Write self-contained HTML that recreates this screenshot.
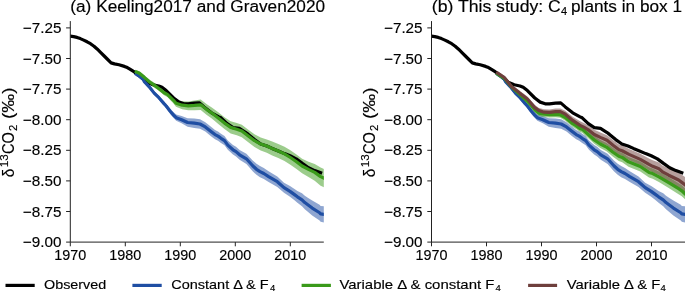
<!DOCTYPE html>
<html><head><meta charset="utf-8"><style>
html,body{margin:0;padding:0;background:#fff;}
svg{display:block;will-change:transform;}
text{font-family:"Liberation Sans",sans-serif;fill:#000;stroke:#000;stroke-width:0.15px;}
.tk{font-size:14.6px;}
.yl{font-size:15.8px;}
.ys{font-size:11px;}
.lg{font-size:13.2px;}
.sb{font-size:9.5px;}
.tt{font-size:15.6px;}
.ts{font-size:11px;}
</style></head><body>
<svg width="685" height="292" viewBox="0 0 685 292">
<defs>
<clipPath id="clipL"><rect x="70.3" y="21.1" width="253.5" height="221.0"/></clipPath>
<clipPath id="clipR"><rect x="431.5" y="21.1" width="253.5" height="221.0"/></clipPath>
</defs>
<rect width="685" height="292" fill="#fff"/>
<g clip-path="url(#clipL)">
<path d="M136.30,72.30 L139.40,74.38 L143.10,77.25 L144.30,79.64 L150.00,85.70 L154.20,91.09 L158.70,95.41 L164.00,101.51 L166.20,103.79 L170.20,108.71 L173.60,112.20 L176.20,114.55 L181.60,116.03 L187.60,118.29 L194.30,118.40 L200.00,119.25 L205.30,122.19 L211.00,126.83 L215.00,129.96 L218.00,131.48 L221.00,133.69 L224.50,135.93 L227.80,140.38 L233.00,145.01 L236.00,146.76 L239.60,149.91 L246.40,153.64 L252.70,160.39 L256.50,163.74 L260.00,165.90 L263.80,167.93 L268.60,171.15 L277.30,176.48 L284.00,182.64 L290.00,186.04 L294.50,189.05 L297.40,190.92 L302.00,193.35 L304.80,195.81 L307.80,197.73 L312.20,200.62 L319.60,204.87 L320.60,205.91 L325.50,206.43 L325.50,222.77 L320.60,221.73 L319.60,220.58 L312.20,215.48 L307.80,211.82 L304.80,209.36 L302.00,206.23 L297.40,202.70 L294.50,200.19 L290.00,196.64 L284.00,192.69 L277.30,186.91 L268.60,182.07 L263.80,179.12 L260.00,177.30 L256.50,174.86 L252.70,171.21 L246.40,163.96 L239.60,159.69 L236.00,156.44 L233.00,154.59 L227.80,149.82 L224.50,145.27 L221.00,142.92 L218.00,140.72 L215.00,139.24 L211.00,136.17 L205.30,131.61 L200.00,128.75 L194.30,128.00 L187.60,126.71 L181.60,123.33 L176.20,120.85 L173.60,118.00 L170.20,113.89 L166.20,108.21 L164.00,105.69 L158.70,99.53 L154.20,95.15 L150.00,89.70 L144.30,83.56 L143.10,81.15 L139.40,78.22 L136.30,76.10 Z" fill="#1f4ea3" fill-opacity="0.5"/>
<path d="M136.30,69.96 L139.40,71.23 L144.30,75.21 L149.30,79.47 L154.20,82.79 L159.10,86.30 L164.10,90.32 L167.30,91.70 L173.50,97.06 L176.00,99.85 L182.20,101.25 L188.30,101.42 L194.50,100.58 L200.70,99.58 L206.80,104.16 L211.80,107.39 L218.30,112.26 L224.50,117.13 L230.70,121.34 L236.80,123.05 L241.80,124.74 L248.30,129.65 L254.50,134.35 L260.70,137.62 L266.80,139.40 L272.20,141.61 L278.30,143.93 L284.50,146.67 L290.40,150.20 L296.50,154.40 L302.10,158.70 L308.50,161.68 L314.70,163.95 L320.60,167.45 L325.50,169.60 L325.50,188.00 L320.60,185.75 L314.70,180.85 L308.50,177.12 L302.10,173.30 L296.50,169.00 L290.40,164.80 L284.50,161.05 L278.30,158.07 L272.20,155.39 L266.80,152.75 L260.70,150.48 L254.50,147.04 L248.30,142.22 L241.80,137.17 L236.80,135.35 L230.70,133.46 L224.50,129.07 L218.30,123.94 L211.80,118.61 L206.80,115.04 L200.70,110.02 L194.50,110.21 L188.30,110.18 L182.20,109.15 L176.00,106.75 L173.50,103.54 L167.30,97.10 L164.10,95.28 L159.10,91.10 L154.20,87.41 L149.30,83.93 L144.30,79.49 L139.40,75.35 L136.30,73.97 Z" fill="#3a9a1a" fill-opacity="0.5"/>
<path d="M68.00,36.00 L70.30,36.20 L73.60,36.60 L77.00,37.40 L80.30,38.60 L83.70,40.10 L87.10,41.80 L90.50,43.70 L94.00,46.20 L97.40,49.20 L100.80,52.60 L104.20,56.00 L107.70,59.50 L111.10,62.90 L114.50,63.90 L119.00,64.80 L124.40,66.40 L127.30,67.60 L129.90,69.20 L134.30,71.92 L141.00,77.01 L147.00,82.30 L153.00,84.80 L158.80,86.00 L162.00,87.30 L166.20,90.60 L173.60,98.00 L179.00,102.13 L184.00,103.80 L188.30,103.90 L194.30,103.20 L199.50,102.90 L204.10,106.90 L211.50,112.80 L218.90,116.83 L221.00,117.80 L227.10,123.60 L233.10,127.60 L239.30,128.40 L245.50,132.30 L248.30,134.40 L254.50,139.60 L260.70,143.95 L266.80,145.97 L272.20,148.40 L278.30,150.90 L284.50,153.60 L290.00,155.80 L296.20,158.90 L302.30,163.40 L308.50,167.70 L314.70,170.60 L320.60,172.80" fill="none" stroke="#000" stroke-width="3.2" stroke-linejoin="round" stroke-linecap="square"/>
<path d="M136.30,74.20 L139.40,76.30 L143.10,79.20 L144.30,81.60 L150.00,87.70 L154.20,93.12 L158.70,97.47 L164.00,103.60 L166.20,106.00 L170.20,111.30 L173.60,115.10 L176.20,117.70 L181.60,119.68 L187.60,122.50 L194.30,123.20 L200.00,124.00 L205.30,126.90 L211.00,131.50 L215.00,134.60 L218.00,136.10 L221.00,138.30 L224.50,140.60 L227.80,145.10 L233.00,149.80 L236.00,151.60 L239.60,154.80 L246.40,158.80 L252.70,165.80 L256.50,169.30 L260.00,171.60 L263.80,173.52 L268.60,176.61 L277.30,181.69 L284.00,187.66 L290.00,191.34 L294.50,194.62 L297.40,196.81 L302.00,199.79 L304.80,202.58 L307.80,204.77 L312.20,208.05 L319.60,212.73 L320.60,213.82 L325.50,214.60" fill="none" stroke="#1f4ea3" stroke-width="3.2" stroke-linejoin="round" stroke-linecap="square"/>
<path d="M136.30,71.97 L139.40,73.29 L144.30,77.35 L149.30,81.70 L154.20,85.10 L159.10,88.70 L164.10,92.80 L167.30,94.40 L173.50,100.30 L176.00,103.30 L182.20,105.20 L188.30,105.80 L194.50,105.40 L200.70,104.80 L206.80,109.60 L211.80,113.00 L218.30,118.10 L224.50,123.10 L230.70,127.40 L236.80,129.20 L241.80,130.96 L248.30,135.94 L254.50,140.70 L260.70,144.05 L266.80,146.07 L272.20,148.50 L278.30,151.00 L284.50,153.86 L290.40,157.50 L296.50,161.70 L302.10,166.00 L308.50,169.40 L314.70,172.40 L320.60,176.60 L325.50,178.80" fill="none" stroke="#3a9a1a" stroke-width="3.2" stroke-linejoin="round" stroke-linecap="square"/>
</g>
<g clip-path="url(#clipR)">
<path d="M497.50,72.30 L500.60,74.38 L504.30,77.25 L505.50,79.64 L511.20,85.70 L515.40,91.09 L519.90,95.41 L525.20,101.51 L527.40,103.79 L531.40,108.71 L534.80,112.20 L537.40,114.55 L542.80,116.03 L548.80,118.29 L555.50,118.40 L561.20,119.25 L566.50,122.19 L572.20,126.83 L576.20,129.96 L579.20,131.48 L582.20,133.69 L585.70,135.93 L589.00,140.38 L594.20,145.01 L597.20,146.76 L600.80,149.91 L607.60,153.64 L613.90,160.39 L617.70,163.74 L621.20,165.90 L625.00,167.93 L629.80,171.15 L638.50,176.48 L645.20,182.64 L651.20,186.04 L655.70,189.05 L658.60,190.92 L663.20,193.35 L666.00,195.81 L669.00,197.73 L673.40,200.62 L680.80,204.87 L681.80,205.91 L686.70,206.43 L686.70,222.77 L681.80,221.73 L680.80,220.58 L673.40,215.48 L669.00,211.82 L666.00,209.36 L663.20,206.23 L658.60,202.70 L655.70,200.19 L651.20,196.64 L645.20,192.69 L638.50,186.91 L629.80,182.07 L625.00,179.12 L621.20,177.30 L617.70,174.86 L613.90,171.21 L607.60,163.96 L600.80,159.69 L597.20,156.44 L594.20,154.59 L589.00,149.82 L585.70,145.27 L582.20,142.92 L579.20,140.72 L576.20,139.24 L572.20,136.17 L566.50,131.61 L561.20,128.75 L555.50,128.00 L548.80,126.71 L542.80,123.33 L537.40,120.85 L534.80,118.00 L531.40,113.89 L527.40,108.21 L525.20,105.69 L519.90,99.53 L515.40,95.15 L511.20,89.70 L505.50,83.56 L504.30,81.15 L500.60,78.22 L497.50,76.10 Z" fill="#1f4ea3" fill-opacity="0.5"/>
<path d="M497.50,71.96 L504.30,76.17 L511.70,84.86 L519.10,91.46 L527.40,98.84 L534.80,107.22 L539.00,110.65 L542.20,111.30 L549.60,111.87 L555.80,111.37 L560.30,111.79 L565.30,114.37 L572.70,120.38 L576.00,122.30 L580.10,125.10 L582.20,125.55 L588.30,130.89 L594.30,136.10 L600.30,139.99 L606.50,142.88 L612.70,147.58 L618.80,151.67 L622.20,152.66 L628.50,156.91 L640.30,161.41 L649.00,167.23 L652.70,168.39 L658.90,171.54 L668.70,177.25 L678.60,183.26 L681.80,185.33 L686.50,189.60 L686.50,200.60 L681.80,196.27 L678.60,194.14 L668.70,187.95 L658.90,182.06 L652.70,178.81 L649.00,177.57 L640.30,171.59 L628.50,166.81 L622.20,162.14 L618.80,160.93 L612.70,156.42 L606.50,151.32 L600.30,148.01 L594.30,143.82 L588.30,138.31 L582.20,132.66 L580.10,132.10 L576.00,129.10 L572.70,127.02 L565.30,120.63 L560.30,117.81 L555.80,117.23 L549.60,117.53 L542.20,116.70 L539.00,115.95 L534.80,112.38 L527.40,103.76 L519.10,96.14 L511.70,89.34 L504.30,80.43 L497.50,76.04 Z" fill="#3a9a1a" fill-opacity="0.5"/>
<path d="M497.50,71.06 L504.30,75.40 L511.70,84.56 L519.10,90.26 L520.00,91.04 L527.40,96.54 L534.80,104.99 L539.00,107.89 L544.00,109.37 L549.50,109.44 L555.50,108.50 L560.30,108.39 L565.30,110.76 L572.70,116.63 L580.10,121.20 L583.80,122.93 L588.00,125.14 L594.30,129.76 L600.40,132.39 L607.00,135.18 L613.00,139.98 L619.00,144.38 L622.20,145.37 L629.00,148.92 L640.30,153.75 L649.00,158.62 L652.70,160.37 L658.90,162.56 L662.50,165.38 L668.70,168.47 L678.60,172.51 L681.80,174.66 L686.50,178.00 L686.50,194.00 L681.80,190.14 L678.60,187.49 L668.70,181.94 L662.50,178.23 L658.90,175.05 L652.70,172.24 L649.00,170.19 L640.30,165.05 L629.00,159.88 L622.20,156.11 L619.00,155.02 L613.00,150.42 L607.00,145.42 L600.40,142.41 L594.30,139.24 L588.00,134.06 L583.80,131.47 L580.10,129.40 L572.70,124.17 L565.30,117.64 L560.30,114.81 L555.50,114.69 L549.50,115.35 L544.00,115.03 L539.00,113.31 L534.80,110.21 L527.40,101.46 L520.00,95.76 L519.10,94.94 L511.70,89.04 L504.30,79.66 L497.50,75.14 Z" fill="#6e3f3c" fill-opacity="0.5"/>
<path d="M429.20,36.00 L431.50,36.20 L434.80,36.60 L438.20,37.40 L441.50,38.60 L444.90,40.10 L448.30,41.80 L451.70,43.70 L455.20,46.20 L458.60,49.20 L462.00,52.60 L465.40,56.00 L468.90,59.50 L472.30,62.90 L475.70,63.90 L480.20,64.80 L485.60,66.40 L488.50,67.60 L491.10,69.20 L495.50,71.92 L502.20,77.01 L508.20,82.30 L514.20,84.80 L520.00,86.00 L523.20,87.30 L527.40,90.60 L534.80,98.00 L540.20,102.13 L545.20,103.80 L549.50,103.90 L555.50,103.20 L560.70,102.90 L565.30,106.90 L572.70,112.80 L580.10,116.83 L582.20,117.80 L588.30,123.60 L594.30,127.60 L600.50,128.40 L606.70,132.30 L609.50,134.40 L615.70,139.60 L621.90,143.95 L628.00,145.97 L633.40,148.40 L639.50,150.90 L645.70,153.60 L651.20,155.80 L657.40,158.90 L663.50,163.40 L669.70,167.70 L675.90,170.60 L681.80,172.80" fill="none" stroke="#000" stroke-width="3.2" stroke-linejoin="round" stroke-linecap="square"/>
<path d="M497.50,74.20 L500.60,76.30 L504.30,79.20 L505.50,81.60 L511.20,87.70 L515.40,93.12 L519.90,97.47 L525.20,103.60 L527.40,106.00 L531.40,111.30 L534.80,115.10 L537.40,117.70 L542.80,119.68 L548.80,122.50 L555.50,123.20 L561.20,124.00 L566.50,126.90 L572.20,131.50 L576.20,134.60 L579.20,136.10 L582.20,138.30 L585.70,140.60 L589.00,145.10 L594.20,149.80 L597.20,151.60 L600.80,154.80 L607.60,158.80 L613.90,165.80 L617.70,169.30 L621.20,171.60 L625.00,173.52 L629.80,176.61 L638.50,181.69 L645.20,187.66 L651.20,191.34 L655.70,194.62 L658.60,196.81 L663.20,199.79 L666.00,202.58 L669.00,204.77 L673.40,208.05 L680.80,212.73 L681.80,213.82 L686.70,214.60" fill="none" stroke="#1f4ea3" stroke-width="3.2" stroke-linejoin="round" stroke-linecap="square"/>
<path d="M497.50,74.00 L504.30,78.30 L511.70,87.10 L519.10,93.80 L527.40,101.30 L534.80,109.80 L539.00,113.30 L542.20,114.00 L549.60,114.70 L555.80,114.30 L560.30,114.80 L565.30,117.50 L572.70,123.70 L576.00,125.70 L580.10,128.60 L582.20,129.10 L588.30,134.60 L594.30,139.96 L600.30,144.00 L606.50,147.10 L612.70,152.00 L618.80,156.30 L622.20,157.40 L628.50,161.86 L640.30,166.50 L649.00,172.40 L652.70,173.60 L658.90,176.80 L668.70,182.60 L678.60,188.70 L681.80,190.80 L686.50,195.10" fill="none" stroke="#3a9a1a" stroke-width="3.2" stroke-linejoin="round" stroke-linecap="square"/>
<path d="M497.50,73.10 L504.30,77.53 L511.70,86.80 L519.10,92.60 L520.00,93.40 L527.40,99.00 L534.80,107.60 L539.00,110.60 L544.00,112.20 L549.50,112.40 L555.50,111.60 L560.30,111.60 L565.30,114.20 L572.70,120.40 L580.10,125.30 L583.80,127.20 L588.00,129.60 L594.30,134.50 L600.40,137.40 L607.00,140.30 L613.00,145.20 L619.00,149.70 L622.20,150.74 L629.00,154.40 L640.30,159.40 L649.00,164.40 L652.70,166.30 L658.90,168.80 L662.50,171.80 L668.70,175.20 L678.60,180.00 L681.80,182.40 L686.50,186.00" fill="none" stroke="#6e3f3c" stroke-width="3.2" stroke-linejoin="round" stroke-linecap="square"/>
</g>
<line x1="70.3" y1="21.1" x2="70.3" y2="242.1" stroke="#222" stroke-width="1"/>
<line x1="70.3" y1="242.1" x2="323.8" y2="242.1" stroke="#222" stroke-width="1"/>
<line x1="66.1" y1="27.9" x2="70.3" y2="27.9" stroke="#222" stroke-width="1"/>
<text x="61.4" y="32.9" text-anchor="end" class="tk" textLength="38.6" lengthAdjust="spacingAndGlyphs">−7.25</text>
<line x1="66.1" y1="58.5" x2="70.3" y2="58.5" stroke="#222" stroke-width="1"/>
<text x="61.4" y="63.5" text-anchor="end" class="tk" textLength="38.6" lengthAdjust="spacingAndGlyphs">−7.50</text>
<line x1="66.1" y1="89.1" x2="70.3" y2="89.1" stroke="#222" stroke-width="1"/>
<text x="61.4" y="94.1" text-anchor="end" class="tk" textLength="38.6" lengthAdjust="spacingAndGlyphs">−7.75</text>
<line x1="66.1" y1="119.70000000000002" x2="70.3" y2="119.70000000000002" stroke="#222" stroke-width="1"/>
<text x="61.4" y="124.70000000000002" text-anchor="end" class="tk" textLength="38.6" lengthAdjust="spacingAndGlyphs">−8.00</text>
<line x1="66.1" y1="150.3" x2="70.3" y2="150.3" stroke="#222" stroke-width="1"/>
<text x="61.4" y="155.3" text-anchor="end" class="tk" textLength="38.6" lengthAdjust="spacingAndGlyphs">−8.25</text>
<line x1="66.1" y1="180.9" x2="70.3" y2="180.9" stroke="#222" stroke-width="1"/>
<text x="61.4" y="185.9" text-anchor="end" class="tk" textLength="38.6" lengthAdjust="spacingAndGlyphs">−8.50</text>
<line x1="66.1" y1="211.50000000000003" x2="70.3" y2="211.50000000000003" stroke="#222" stroke-width="1"/>
<text x="61.4" y="216.50000000000003" text-anchor="end" class="tk" textLength="38.6" lengthAdjust="spacingAndGlyphs">−8.75</text>
<line x1="66.1" y1="242.10000000000002" x2="70.3" y2="242.10000000000002" stroke="#222" stroke-width="1"/>
<text x="61.4" y="247.10000000000002" text-anchor="end" class="tk" textLength="38.6" lengthAdjust="spacingAndGlyphs">−9.00</text>
<line x1="70.3" y1="242.1" x2="70.3" y2="246.29999999999998" stroke="#222" stroke-width="1"/>
<text x="70.3" y="259.8" text-anchor="middle" class="tk" textLength="32" lengthAdjust="spacingAndGlyphs">1970</text>
<line x1="125.3" y1="242.1" x2="125.3" y2="246.29999999999998" stroke="#222" stroke-width="1"/>
<text x="125.3" y="259.8" text-anchor="middle" class="tk" textLength="32" lengthAdjust="spacingAndGlyphs">1980</text>
<line x1="180.3" y1="242.1" x2="180.3" y2="246.29999999999998" stroke="#222" stroke-width="1"/>
<text x="180.3" y="259.8" text-anchor="middle" class="tk" textLength="32" lengthAdjust="spacingAndGlyphs">1990</text>
<line x1="235.3" y1="242.1" x2="235.3" y2="246.29999999999998" stroke="#222" stroke-width="1"/>
<text x="235.3" y="259.8" text-anchor="middle" class="tk" textLength="32" lengthAdjust="spacingAndGlyphs">2000</text>
<line x1="290.3" y1="242.1" x2="290.3" y2="246.29999999999998" stroke="#222" stroke-width="1"/>
<text x="290.3" y="259.8" text-anchor="middle" class="tk" textLength="32" lengthAdjust="spacingAndGlyphs">2010</text>
<g transform="translate(13.9,0) rotate(-90)"><text x="-177.3" y="0" class="yl" textLength="8.6" lengthAdjust="spacingAndGlyphs">δ</text><text x="-167.2" y="-5.9" class="ys" textLength="13.0" lengthAdjust="spacingAndGlyphs">13</text><text x="-154.0" y="0" class="yl" textLength="22.0" lengthAdjust="spacingAndGlyphs">CO</text><text x="-130.9" y="3.0" class="ys" textLength="6.2" lengthAdjust="spacingAndGlyphs">2</text><text x="-119.0" y="0" class="yl" textLength="31.5" lengthAdjust="spacingAndGlyphs">(‰)</text></g>
<line x1="431.5" y1="21.1" x2="431.5" y2="242.1" stroke="#222" stroke-width="1"/>
<line x1="431.5" y1="242.1" x2="685.0" y2="242.1" stroke="#222" stroke-width="1"/>
<line x1="427.3" y1="27.9" x2="431.5" y2="27.9" stroke="#222" stroke-width="1"/>
<text x="422.59999999999997" y="32.9" text-anchor="end" class="tk" textLength="38.6" lengthAdjust="spacingAndGlyphs">−7.25</text>
<line x1="427.3" y1="58.5" x2="431.5" y2="58.5" stroke="#222" stroke-width="1"/>
<text x="422.59999999999997" y="63.5" text-anchor="end" class="tk" textLength="38.6" lengthAdjust="spacingAndGlyphs">−7.50</text>
<line x1="427.3" y1="89.1" x2="431.5" y2="89.1" stroke="#222" stroke-width="1"/>
<text x="422.59999999999997" y="94.1" text-anchor="end" class="tk" textLength="38.6" lengthAdjust="spacingAndGlyphs">−7.75</text>
<line x1="427.3" y1="119.70000000000002" x2="431.5" y2="119.70000000000002" stroke="#222" stroke-width="1"/>
<text x="422.59999999999997" y="124.70000000000002" text-anchor="end" class="tk" textLength="38.6" lengthAdjust="spacingAndGlyphs">−8.00</text>
<line x1="427.3" y1="150.3" x2="431.5" y2="150.3" stroke="#222" stroke-width="1"/>
<text x="422.59999999999997" y="155.3" text-anchor="end" class="tk" textLength="38.6" lengthAdjust="spacingAndGlyphs">−8.25</text>
<line x1="427.3" y1="180.9" x2="431.5" y2="180.9" stroke="#222" stroke-width="1"/>
<text x="422.59999999999997" y="185.9" text-anchor="end" class="tk" textLength="38.6" lengthAdjust="spacingAndGlyphs">−8.50</text>
<line x1="427.3" y1="211.50000000000003" x2="431.5" y2="211.50000000000003" stroke="#222" stroke-width="1"/>
<text x="422.59999999999997" y="216.50000000000003" text-anchor="end" class="tk" textLength="38.6" lengthAdjust="spacingAndGlyphs">−8.75</text>
<line x1="427.3" y1="242.10000000000002" x2="431.5" y2="242.10000000000002" stroke="#222" stroke-width="1"/>
<text x="422.59999999999997" y="247.10000000000002" text-anchor="end" class="tk" textLength="38.6" lengthAdjust="spacingAndGlyphs">−9.00</text>
<line x1="431.5" y1="242.1" x2="431.5" y2="246.29999999999998" stroke="#222" stroke-width="1"/>
<text x="431.5" y="259.8" text-anchor="middle" class="tk" textLength="32" lengthAdjust="spacingAndGlyphs">1970</text>
<line x1="486.5" y1="242.1" x2="486.5" y2="246.29999999999998" stroke="#222" stroke-width="1"/>
<text x="486.5" y="259.8" text-anchor="middle" class="tk" textLength="32" lengthAdjust="spacingAndGlyphs">1980</text>
<line x1="541.5" y1="242.1" x2="541.5" y2="246.29999999999998" stroke="#222" stroke-width="1"/>
<text x="541.5" y="259.8" text-anchor="middle" class="tk" textLength="32" lengthAdjust="spacingAndGlyphs">1990</text>
<line x1="596.5" y1="242.1" x2="596.5" y2="246.29999999999998" stroke="#222" stroke-width="1"/>
<text x="596.5" y="259.8" text-anchor="middle" class="tk" textLength="32" lengthAdjust="spacingAndGlyphs">2000</text>
<line x1="651.5" y1="242.1" x2="651.5" y2="246.29999999999998" stroke="#222" stroke-width="1"/>
<text x="651.5" y="259.8" text-anchor="middle" class="tk" textLength="32" lengthAdjust="spacingAndGlyphs">2010</text>
<g transform="translate(375.09999999999997,0) rotate(-90)"><text x="-177.3" y="0" class="yl" textLength="8.6" lengthAdjust="spacingAndGlyphs">δ</text><text x="-167.2" y="-5.9" class="ys" textLength="13.0" lengthAdjust="spacingAndGlyphs">13</text><text x="-154.0" y="0" class="yl" textLength="22.0" lengthAdjust="spacingAndGlyphs">CO</text><text x="-130.9" y="3.0" class="ys" textLength="6.2" lengthAdjust="spacingAndGlyphs">2</text><text x="-119.0" y="0" class="yl" textLength="31.5" lengthAdjust="spacingAndGlyphs">(‰)</text></g>
<text x="70.3" y="11.5" class="tt" textLength="254.8" lengthAdjust="spacingAndGlyphs">(a) Keeling2017 and Graven2020</text>
<text x="431.8" y="11.5" class="tt" textLength="129" lengthAdjust="spacingAndGlyphs">(b) This study: C</text>
<text x="561" y="14.5" class="ts">4</text>
<text x="571" y="11.5" class="tt" textLength="111" lengthAdjust="spacingAndGlyphs">plants in box 1</text>
<line x1="5.5" y1="285.4" x2="34.7" y2="285.4" stroke="#000" stroke-width="3.2"/>
<line x1="132.4" y1="285.4" x2="161.7" y2="285.4" stroke="#1f4ea3" stroke-width="3.2"/>
<line x1="301.6" y1="285.4" x2="330.9" y2="285.4" stroke="#3a9a1a" stroke-width="3.2"/>
<line x1="528.1" y1="285.4" x2="557.1" y2="285.4" stroke="#6e3f3c" stroke-width="3.2"/>
<text x="44" y="289.4" class="lg" textLength="62.2" lengthAdjust="spacingAndGlyphs">Observed</text>
<text x="171.3" y="289.4" class="lg" textLength="97.3" lengthAdjust="spacingAndGlyphs">Constant Δ &amp; F</text>
<text x="270" y="291.4" class="sb">4</text>
<text x="339.4" y="289.4" class="lg" textLength="155" lengthAdjust="spacingAndGlyphs">Variable Δ &amp; constant F</text>
<text x="495.6" y="291.4" class="sb">4</text>
<text x="566.7" y="289.4" class="lg" textLength="93.6" lengthAdjust="spacingAndGlyphs">Variable Δ &amp; F</text>
<text x="660.6" y="291.4" class="sb">4</text>
</svg>
</body></html>
